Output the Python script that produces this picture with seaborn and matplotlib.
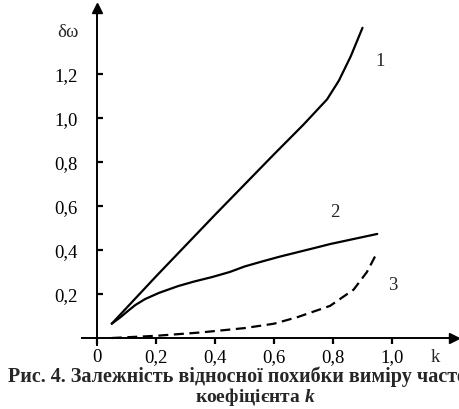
import matplotlib
matplotlib.use("Agg")
import matplotlib.pyplot as plt
import pandas as pd
import seaborn as sns

# curve 1 (solid, nearly linear then steeper)
k1 = [0.05, 0.20, 0.40, 0.60, 0.70, 0.78, 0.82, 0.86, 0.90]
d1 = [0.065, 0.28, 0.56, 0.835, 0.97, 1.085, 1.17, 1.28, 1.41]
# curve 2 (solid, saturating)
k2 = [0.05, 0.08, 0.105, 0.13, 0.163, 0.21, 0.275, 0.33, 0.39, 0.45, 0.50,
      0.56, 0.62, 0.68, 0.74, 0.79, 0.87, 0.95]
d2 = [0.065, 0.095, 0.123, 0.15, 0.177, 0.205, 0.236, 0.257, 0.277, 0.30,
      0.325, 0.348, 0.37, 0.39, 0.41, 0.427, 0.45, 0.473]
# curve 3 (dashed, rising at the end)
k3 = [0.05, 0.20, 0.35, 0.50, 0.60, 0.68, 0.79, 0.87, 0.915, 0.95]
d3 = [0.0, 0.01, 0.025, 0.045, 0.065, 0.095, 0.146, 0.22, 0.30, 0.39]

x_ticks = [0, 0.2, 0.4, 0.6, 0.8, 1.0]
x_labels = ["0", "0,2", "0,4", "0,6", "0,8", "1,0"]
y_ticks = [0.2, 0.4, 0.6, 0.8, 1.0, 1.2]
y_labels = ["0,2", "0,4", "0,6", "0,8", "1,0", "1,2"]

curve_names = ["1", "2", "3"]
caption_1 = "Рис. 4. Залежність відносної похибки виміру частоти від"
caption_2 = "коефіцієнта $k$"

sns.set_theme(style="white")
plt.rcParams["font.family"] = ["Liberation Serif", "DejaVu Serif"]
plt.rcParams["mathtext.fontset"] = "custom"
plt.rcParams["mathtext.it"] = "Liberation Serif:bold:italic"
plt.rcParams["mathtext.rm"] = "Liberation Serif:bold"

df = pd.concat([
    pd.DataFrame({"k": k1, "d": d1, "curve": "1"}),
    pd.DataFrame({"k": k2, "d": d2, "curve": "2"}),
    pd.DataFrame({"k": k3, "d": d3, "curve": "3"}),
])

fig = plt.figure(figsize=(4.59, 4.10), dpi=100)
ax = fig.add_axes([0, 0, 1, 1])
ax.set_xlim(-0.3288, 1.2271)
ax.set_ylim(-0.3227, 1.5409)

sns.lineplot(data=df, x="k", y="d", hue="curve", style="curve",
             palette=["black", "black", "black"],
             dashes={"1": "", "2": "", "3": (4.5, 2.5)},
             linewidth=1.6, sort=False, legend=False, ax=ax)

for s in ["top", "right"]:
    ax.spines[s].set_visible(False)
ax.spines["left"].set_position(("data", 0))
ax.spines["bottom"].set_position(("data", 0))
ax.spines["left"].set_bounds(-0.032, 1.50)
ax.spines["bottom"].set_bounds(-0.05, 1.21)
for s in ["left", "bottom"]:
    ax.spines[s].set_linewidth(1.4)
    ax.spines[s].set_color("black")
ax.plot([0], [1.50], marker="^", color="black", markersize=7, clip_on=False)
ax.plot([1.21], [0], marker=">", color="black", markersize=7, clip_on=False)

ax.set_xticks(x_ticks, x_labels)
ax.set_yticks(y_ticks, y_labels)
ax.tick_params(axis="x", direction="out", length=4, width=1.6, pad=3,
               labelsize=13.5, colors="black", bottom=True)
ax.tick_params(axis="y", direction="in", length=4, width=1.6, pad=14,
               labelsize=13.5, colors="black", left=True)
ax.set_xlabel("")
ax.set_ylabel("")

ax.text(-0.098, 1.395, "δω", fontsize=13.5, ha="center", va="center")
ax.text(1.146, -0.082, "k", fontsize=13.5, ha="center", va="center")
label_pos = [(0.96, 1.26), (0.807, 0.577), (1.003, 0.245)]
for name, (lx, ly) in zip(curve_names, label_pos):
    ax.text(lx, ly, name, fontsize=13.5, ha="center", va="center")

fig.text(8 / 459, 1 - 377 / 410, caption_1, fontsize=14.5, fontweight="bold",
         ha="left", va="center")
fig.text(255 / 459, 1 - 397 / 410, caption_2, fontsize=14, fontweight="bold",
         ha="center", va="center")

fig.savefig("out.png", dpi=100)
